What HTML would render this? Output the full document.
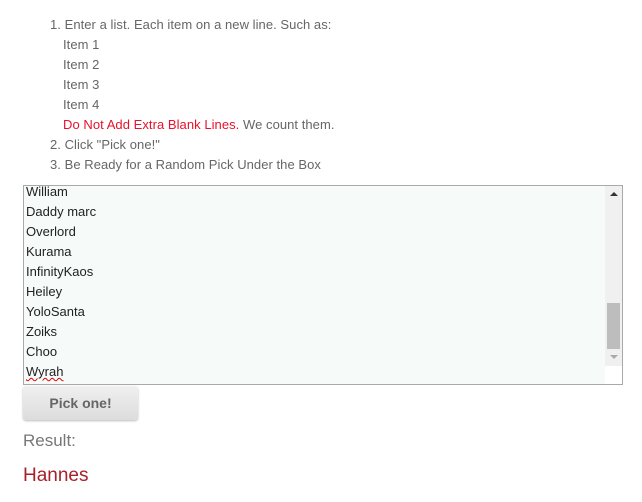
<!DOCTYPE html>
<html><head><style>
body{margin:0;width:642px;height:502px;background:#fff;font-family:"Liberation Sans",sans-serif;position:relative;overflow:hidden}
.t{position:absolute;font-size:13px;color:#666;white-space:nowrap;line-height:20px;letter-spacing:0.05px}
.red{color:#e8112d}
#ta{position:absolute;left:23px;top:185px;width:598px;height:198px;border:1px solid #a9a9a9;background:#f6fbfa;overflow:hidden}
.l{position:absolute;left:2px;font-size:13px;color:#222;line-height:20px}
#sb{position:absolute;right:0;top:0;width:17px;height:198px;background:#f0f0f0}
#btn{position:absolute;left:23px;top:386px;width:115px;height:34px;border-radius:3px;background:linear-gradient(#f0f0f0,#dcdcdc);box-shadow:0 1px 2px #bbb;font-weight:bold;font-size:14px;color:#666;text-align:center;line-height:34px}
</style></head><body>
<div class="t" style="left:50px;top:15px">1. Enter a list. Each item on a new line. Such as:</div>
<div class="t" style="left:63px;top:35px">Item 1</div>
<div class="t" style="left:63px;top:55px">Item 2</div>
<div class="t" style="left:63px;top:75px">Item 3</div>
<div class="t" style="left:63px;top:95px">Item 4</div>
<div class="t" style="left:63px;top:115px"><span class="red">Do Not Add Extra Blank Lines.</span> We count them.</div>
<div class="t" style="left:50px;top:135px">2. Click "Pick one!"</div>
<div class="t" style="left:50px;top:155px">3. Be Ready for a Random Pick Under the Box</div>
<div id="ta">
<div class="l" style="top:-4px">William</div>
<div class="l" style="top:16px">Daddy marc</div>
<div class="l" style="top:36px">Overlord</div>
<div class="l" style="top:56px">Kurama</div>
<div class="l" style="top:76px">InfinityKaos</div>
<div class="l" style="top:96px">Heiley</div>
<div class="l" style="top:116px">YoloSanta</div>
<div class="l" style="top:136px">Zoiks</div>
<div class="l" style="top:156px">Choo</div>
<div class="l" style="top:176px;text-decoration:underline wavy #d00;text-decoration-thickness:1px">Wyrah</div>
<div id="sb">
<div style="position:absolute;left:5px;top:6px;width:0;height:0;border-left:4px solid transparent;border-right:4px solid transparent;border-bottom:4px solid #333"></div>
<div style="position:absolute;left:2px;top:117px;width:13px;height:46px;background:#bdbdbd"></div>
<div style="position:absolute;left:5px;top:169px;width:0;height:0;border-left:4px solid transparent;border-right:4px solid transparent;border-top:4px solid #aaa"></div>
<div style="position:absolute;left:0;top:180px;width:17px;height:18px;background:#fff"></div>
</div>
</div>
<div id="btn">Pick one!</div>
<div style="position:absolute;left:23px;top:431px;font-size:17px;color:#777">Result:</div>
<div style="position:absolute;left:23px;top:465px;font-size:19px;color:#a8202b">Hannes</div>
</body></html>
